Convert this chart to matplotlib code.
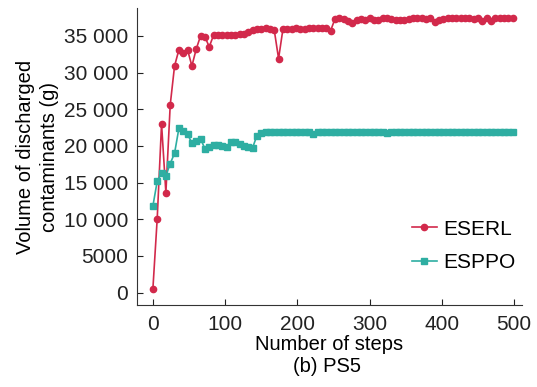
import matplotlib
matplotlib.use("Agg")
import matplotlib.pyplot as plt
from matplotlib.ticker import FuncFormatter
import numpy as np

plt.rcParams["font.family"] = ["Liberation Sans", "DejaVu Sans"]

# evaluation every 6 steps
steps = np.arange(0, 499, 6)

eserl = [
    500, 10100, 23000, 13600, 25600, 30900, 33100, 32600, 33100, 30900,
    33200, 35000, 34900, 33500, 35100, 35100, 35100, 35150, 35100, 35100,
    35200, 35300, 35500, 35800, 35900, 36000, 36100, 36000, 35800, 31900,
    35900, 36000, 36000, 36100, 36000, 35900, 36100, 36100, 36100, 36100,
    36100, 35700, 37300, 37400, 37300, 37000, 36800, 37200, 37300, 37200,
    37400, 37200, 37200, 37400, 37400, 37300, 37200, 37200, 37200, 37300,
    37400, 37400, 37400, 37300, 37400, 36900, 37200, 37300, 37400, 37400,
    37400, 37400, 37400, 37400, 37300, 37400, 37000, 37400, 37000, 37400,
    37400, 37500, 37500, 37500,
]

esppo = [
    11800, 15200, 16300, 15900, 17600, 19000, 22400, 22000, 21600, 20400,
    20700, 21000, 19600, 19900, 20100, 20100, 20000, 19900, 20500, 20500,
    20300, 20000, 19800, 19750, 21400, 21700, 21900, 21950, 21950, 21950,
    21950, 21950, 21950, 21950, 21950, 21950, 21900, 21600, 21900, 21950,
    21950, 21950, 21950, 21950, 21950, 21950, 21950, 21950, 21950, 21950,
    21950, 21950, 21950, 21900, 21700, 21900, 21950, 21950, 21950, 21950,
    21950, 21950, 21950, 21950, 21950, 21950, 21950, 21950, 21950, 21950,
    21950, 21950, 21950, 21950, 21950, 21950, 21950, 21950, 21950, 21950,
    21950, 21950, 21950, 21950,
]


def fmt(v, pos):
    v = int(round(v))
    if v >= 10000:
        return f"{v:,}".replace(",", " ")
    return str(v)


fig = plt.figure(figsize=(5.37, 3.87), dpi=100)
ax = fig.add_axes([0.2551, 0.2119, 0.7170, 0.7674])

ax.plot(steps, eserl, color="#d2294b", marker="o", markersize=4.5,
        linewidth=1.2, label="ESERL")
ax.plot(steps, esppo, color="#2eaea2", marker="s", markersize=5,
        linewidth=1.2, label="ESPPO")

ax.set_xlim(-22, 511)
ax.set_ylim(-1680, 38800)
ax.set_xticks(range(0, 501, 100))
ax.set_yticks(range(0, 35001, 5000))
ax.yaxis.set_major_formatter(FuncFormatter(fmt))

for s in ["top", "right"]:
    ax.spines[s].set_visible(False)
for s in ["left", "bottom"]:
    ax.spines[s].set_color("#333333")
ax.tick_params(direction="in", length=4.5, labelsize=15, colors="#222222")
ax.tick_params(axis="y", pad=6.5)
ax.tick_params(axis="x", pad=7)

ax.set_xlabel("Number of steps", fontsize=14.5, labelpad=1)
ax.set_ylabel("Volume of discharged\ncontaminants (g)", fontsize=14.5,
              linespacing=1.35, labelpad=3)

ax.legend(loc="lower right", bbox_to_anchor=(1.031, 0.047), frameon=False,
          fontsize=15, handlelength=1.2, handletextpad=0.3,
          labelspacing=0.7)

fig.text(0.609, 0.052, "(b) PS5", ha="center", va="center", fontsize=14.5)

fig.savefig("out.png", dpi=100)
